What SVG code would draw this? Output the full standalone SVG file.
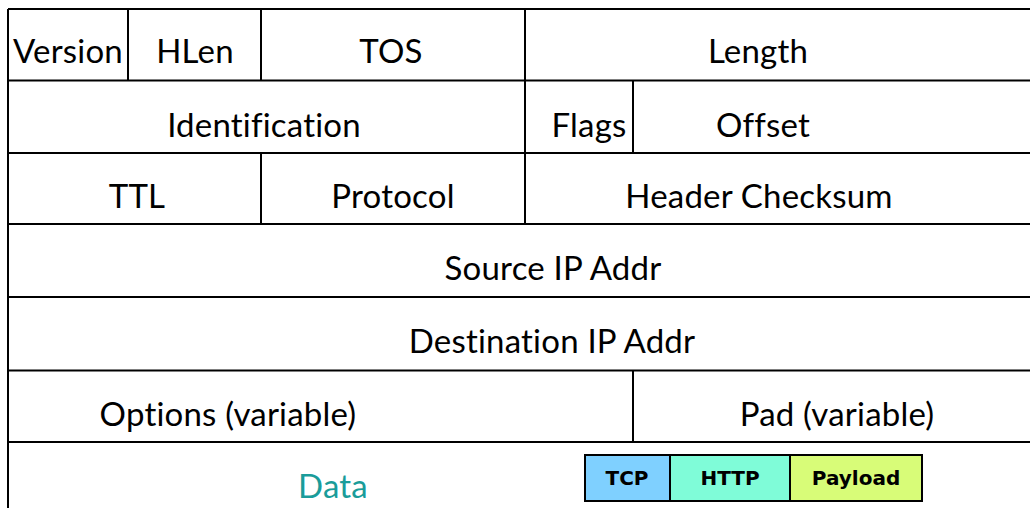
<svg xmlns="http://www.w3.org/2000/svg" width="1030" height="508" viewBox="0 0 1030 508">
<style>
.ln{stroke:#000;stroke-width:2;fill:none}
.t{font-family:Lato,"Open Sans","Liberation Sans",sans-serif;font-size:33px;fill:#000;text-anchor:middle;letter-spacing:0.2px}
.b{font-family:"DejaVu Sans","Liberation Sans",sans-serif;font-weight:bold;font-size:20px;fill:#000;text-anchor:middle}
.bx{stroke:#000;stroke-width:2}
</style>
<rect width="1030" height="508" fill="#fff"/>
<g id="grid">
<path class="ln" d="M8,9H1032M8,80.5H1032M8,153H1032M8,224H1032M8,297H1032M8,370.5H1032M8,442H1032M8,9V510"/>
<path class="ln" d="M128,9V80.5M261,9V80.5M525,9V224M633,80.5V153M261,153V224M633,370.5V442"/>
</g>
<g id="row1">
<text class="t" x="68" y="63">Version</text>
<text class="t" x="195" y="63">HLen</text>
<text class="t" x="391" y="63">TOS</text>
<text class="t" x="758" y="63">Length</text>
</g>
<g id="row2">
<text class="t" x="264" y="137">Identification</text>
<text class="t" x="589" y="137">Flags</text>
<text class="t" x="763" y="137">Offset</text>
</g>
<g id="row3">
<text class="t" x="137" y="208">TTL</text>
<text class="t" x="393" y="208">Protocol</text>
<text class="t" x="759" y="208">Header Checksum</text>
</g>
<g id="row4"><text class="t" x="553" y="280">Source IP Addr</text></g>
<g id="row5"><text class="t" x="552" y="353">Destination IP Addr</text></g>
<g id="row6">
<text class="t" x="228" y="426">Options (variable)</text>
<text class="t" x="837" y="426">Pad (variable)</text>
</g>
<g id="data">
<text class="t" x="333" y="498" style="fill:#1a9c9a">Data</text>
<rect class="bx" x="585" y="455" width="85" height="46" fill="#7fd0ff"/>
<rect class="bx" x="670" y="455" width="120" height="46" fill="#7ffcd8"/>
<rect class="bx" x="790" y="455" width="132" height="46" fill="#d8fc78"/>
<text class="b" x="627" y="485">TCP</text>
<text class="b" x="730" y="485">HTTP</text>
<text class="b" x="856" y="485">Payload</text>
</g>
</svg>
